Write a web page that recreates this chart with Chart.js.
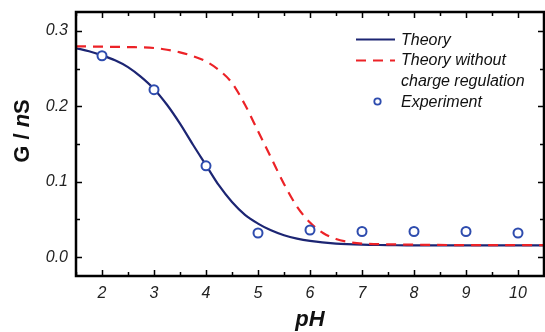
<!DOCTYPE html>
<html>
<head>
<meta charset="utf-8">
<script src="https://cdn.jsdelivr.net/npm/chart.js@4.4.1/dist/chart.umd.min.js"></script>
<style>
  html, body { margin: 0; padding: 0; background: #fff; }
  #wrap { width: 545px; height: 332px; }
</style>
</head>
<body>
<div id="wrap"><canvas id="chart" width="545" height="332"></canvas></div>
<script>
// data
const theoryPH = [1.5, 1.75, 2, 2.25, 2.5, 2.75, 3, 3.25, 3.5, 3.75, 4, 4.25, 4.5, 4.75, 5, 5.25, 5.5, 5.75, 6, 6.5, 7, 7.5, 8, 9, 10, 10.5];
const theoryG = [0.277, 0.273, 0.2675, 0.261, 0.252, 0.239, 0.223, 0.202, 0.177, 0.149, 0.122, 0.095, 0.073, 0.056, 0.0445, 0.0355, 0.029, 0.0245, 0.0215, 0.018, 0.0165, 0.016, 0.0155, 0.0155, 0.0155, 0.0155];

const noRegPH = [1.5, 2, 2.5, 3, 3.25, 3.5, 3.75, 4, 4.25, 4.5, 4.75, 5, 5.25, 5.5, 5.75, 6, 6.25, 6.5, 6.75, 7, 7.5, 8, 9, 10, 10.5];
const noRegG = [0.2795, 0.279, 0.2785, 0.2773, 0.275, 0.2715, 0.2665, 0.2595, 0.248, 0.231, 0.202, 0.167, 0.132, 0.097, 0.067, 0.046, 0.032, 0.024, 0.020, 0.018, 0.017, 0.0165, 0.016, 0.016, 0.016];

const expPH = [2, 3, 4, 5, 6, 7, 8, 9, 10];
const expG = [0.267, 0.222, 0.121, 0.032, 0.036, 0.034, 0.034, 0.034, 0.032];

const xTicks = [2, 3, 4, 5, 6, 7, 8, 9, 10];
const yTicks = [0.0, 0.1, 0.2, 0.3];

const legendLabels = ['Theory', 'Theory without', 'charge regulation', 'Experiment'];

const NAVY = '#1c2573';
const RED = '#ec2227';
const BLUE = '#2e4cae';
const FONT = '"Liberation Sans", Arial, sans-serif';

const pts = (xs, ys) => xs.map((x, i) => ({ x: x, y: ys[i] }));

// frame, inward ticks, axis titles, legend
const decor = {
  id: 'decor',
  afterDatasetsDraw(chart) {
    const { ctx, chartArea: a, scales: { x, y } } = chart;
    ctx.save();
    ctx.strokeStyle = '#000';
    ctx.lineWidth = 1.5;
    ctx.beginPath();
    for (let v = 1.5; v <= 10.5001; v += 0.5) {
      const px = Math.round(x.getPixelForValue(v)) + 0.5;
      const len = Number.isInteger(v) ? 6 : 4;
      ctx.moveTo(px, a.bottom); ctx.lineTo(px, a.bottom - len);
      ctx.moveTo(px, a.top); ctx.lineTo(px, a.top + len);
    }
    for (let v = 0; v <= 0.3001; v += 0.05) {
      const py = Math.round(y.getPixelForValue(v)) + 0.5;
      const len = Math.abs(v * 10 - Math.round(v * 10)) < 1e-6 ? 6 : 4;
      ctx.moveTo(a.left, py); ctx.lineTo(a.left + len, py);
      ctx.moveTo(a.right, py); ctx.lineTo(a.right - len, py);
    }
    ctx.stroke();
    ctx.lineWidth = 2.5;
    ctx.strokeRect(a.left, a.top, a.right - a.left, a.bottom - a.top);

    // axis titles
    ctx.fillStyle = '#111';
    ctx.textBaseline = 'middle';
    ctx.textAlign = 'center';
    ctx.font = 'italic bold 22px ' + FONT;
    ctx.fillText('pH', (a.left + a.right) / 2, 320);

    ctx.save();
    ctx.translate(23, 131);
    ctx.rotate(-Math.PI / 2);
    const parts = [['G / ', 'bold'], ['n', 'italic bold'], ['S', 'bold']];
    let total = 0;
    parts.forEach(p => { ctx.font = p[1] + ' 22px ' + FONT; total += ctx.measureText(p[0]).width; });
    let cx = -total / 2;
    ctx.textAlign = 'left';
    parts.forEach(p => {
      ctx.font = p[1] + ' 22px ' + FONT;
      ctx.fillText(p[0], cx, 0);
      cx += ctx.measureText(p[0]).width;
    });
    ctx.restore();

    // legend
    ctx.font = 'italic 16px ' + FONT;
    ctx.textAlign = 'left';
    ctx.fillStyle = '#111';
    ctx.lineWidth = 2;
    ctx.strokeStyle = NAVY;
    ctx.beginPath(); ctx.moveTo(356, 39.5); ctx.lineTo(395, 39.5); ctx.stroke();
    ctx.strokeStyle = RED;
    ctx.setLineDash([10, 7]);
    ctx.beginPath(); ctx.moveTo(356, 60.5); ctx.lineTo(395, 60.5); ctx.stroke();
    ctx.setLineDash([]);
    ctx.strokeStyle = BLUE;
    ctx.lineWidth = 1.8;
    ctx.beginPath(); ctx.arc(377.5, 101.5, 3.2, 0, Math.PI * 2); ctx.stroke();
    ctx.fillText(legendLabels[0], 401, 40.5);
    ctx.fillText(legendLabels[1], 401, 61);
    ctx.fillText(legendLabels[2], 401, 82);
    ctx.fillText(legendLabels[3], 401, 102.5);
    ctx.restore();
  }
};

new Chart(document.getElementById('chart'), {
  type: 'line',
  data: {
    datasets: [
      {
        label: 'Theory',
        data: pts(theoryPH, theoryG),
        borderColor: NAVY,
        borderWidth: 2.2,
        pointRadius: 0,
        cubicInterpolationMode: 'monotone',
        order: 3
      },
      {
        label: 'Theory without charge regulation',
        data: pts(noRegPH, noRegG),
        borderColor: RED,
        borderWidth: 2.2,
        borderDash: [10, 7],
        pointRadius: 0,
        cubicInterpolationMode: 'monotone',
        order: 2
      },
      {
        label: 'Experiment',
        data: pts(expPH, expG),
        showLine: false,
        pointRadius: 4.5,
        pointBorderWidth: 2,
        pointBorderColor: BLUE,
        pointBackgroundColor: '#fff',
        order: 1
      }
    ]
  },
  options: {
    responsive: false,
    animation: false,
    clip: false,
    layout: { autoPadding: false, padding: { top: 12, right: 1, left: 0, bottom: 0 } },
    plugins: { legend: { display: false }, tooltip: { enabled: false } },
    scales: {
      x: {
        type: 'linear',
        min: 1.5,
        max: 10.5,
        grid: { display: false, drawTicks: false },
        border: { display: false },
        afterBuildTicks: s => { s.ticks = xTicks.map(v => ({ value: v })); },
        afterFit: s => { s.height = 56; s.paddingLeft = 0; s.paddingRight = 0; },
        ticks: {
          padding: 8,
          color: '#222',
          font: { family: FONT, size: 16, style: 'italic' },
          maxRotation: 0,
          autoSkip: false
        }
      },
      y: {
        min: -0.025,
        max: 0.325,
        grid: { display: false, drawTicks: false },
        border: { display: false },
        afterBuildTicks: s => { s.ticks = yTicks.map(v => ({ value: v })); },
        afterFit: s => { s.width = 76; s.paddingTop = 0; s.paddingBottom = 0; },
        ticks: {
          padding: 8,
          color: '#222',
          font: { family: FONT, size: 16, style: 'italic' },
          callback: v => v.toFixed(1)
        }
      }
    }
  },
  plugins: [decor]
});
</script>
</body>
</html>
